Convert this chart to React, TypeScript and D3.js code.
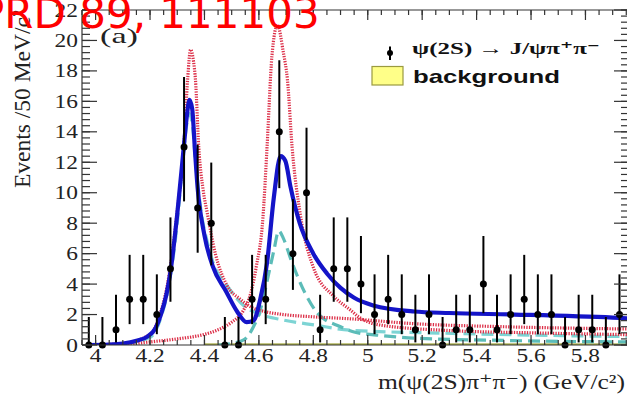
import React from "react";
import * as d3 from "d3";

const W = 627;
const H = 398;

// ---------- data ----------
const binCenters = [
  3.975, 4.025, 4.075, 4.125, 4.175, 4.225, 4.275, 4.325, 4.375, 4.425,
  4.475, 4.525, 4.575, 4.625, 4.675, 4.725, 4.775, 4.825, 4.875, 4.925,
  4.975, 5.025, 5.075, 5.125, 5.175, 5.225, 5.275, 5.325, 5.375, 5.425,
  5.475, 5.525, 5.575, 5.625, 5.675, 5.725, 5.775, 5.825, 5.875, 5.925,
];
const counts = [
  0, 0, 1, 3, 3, 2, 5, 13, 9, 8,
  0, 0, 3, 3, 14, 6, 10, 1, 5, 5,
  4, 2, 3, 2, 1, 2, 0, 1, 1, 4,
  1, 2, 3, 2, 2, 0, 1, 1, 0, 2,
];
const errLow = [
  0, 0, 0.17, 1.37, 1.37, 0.71, 2.84, 9.43, 6.06, 5.23,
  0, 0, 1.37, 1.37, 10.3, 3.62, 6.89, 0.17, 2.84, 2.84,
  2.09, 0.71, 1.37, 0.71, 0.17, 0.71, 0, 0.17, 0.17, 2.09,
  0.17, 0.71, 1.37, 0.71, 0.71, 0, 0.17, 0.17, 0, 0.71,
];
const errHigh = [
  1.84, 1.84, 3.3, 5.92, 5.92, 4.64, 8.38, 17.6, 13.15, 11.98,
  1.84, 1.84, 5.92, 5.92, 18.7, 9.58, 14.27, 3.3, 8.38, 8.38,
  7.16, 4.64, 5.92, 4.64, 3.3, 4.64, 1.84, 3.3, 3.3, 7.16,
  3.3, 4.64, 5.92, 4.64, 4.64, 1.84, 3.3, 3.3, 1.84, 4.64,
];

// total fit (blue solid)
const fitX = [3.975, 4.05, 4.1, 4.15, 4.19, 4.22, 4.24, 4.26, 4.275, 4.3, 4.324, 4.335, 4.345, 4.355, 4.365, 4.375, 4.4, 4.43, 4.48, 4.52, 4.555, 4.58, 4.605, 4.63, 4.655, 4.68, 4.697, 4.716, 4.75, 4.8, 4.85, 4.9, 4.95, 5.02, 5.17, 5.3, 5.54, 5.9, 5.96];
const fitY = [0, 0.03, 0.1, 0.28, 0.55, 1.1, 2.0, 3.3, 4.8, 8.6, 13.0, 15.0, 16.1, 15.5, 12.8, 10.3, 7.2, 5.2, 3.5, 2.2, 1.5, 1.6, 3.0, 5.4, 9.7, 12.4, 12.1, 10.4, 8.0, 6.0, 4.7, 3.75, 3.1, 2.6, 2.2, 2.1, 2.0, 1.8, 1.75];

// component 1 (red dotted, first resonance)
const red1X = [3.975, 4.1, 4.2, 4.24, 4.27, 4.3, 4.324, 4.338, 4.349, 4.36, 4.367, 4.379, 4.395, 4.41, 4.44, 4.483, 4.532, 4.57, 4.62, 4.69, 4.8, 4.936, 5.17, 5.5, 5.96];
const red1Y = [0, 0.1, 0.7, 2.2, 4.6, 8.8, 13.0, 17.4, 19.4, 18.6, 17.4, 13.0, 10.2, 8.7, 6.0, 3.9, 3.0, 2.5, 2.2, 2.0, 1.85, 1.72, 1.4, 1.2, 1.05];

// component 2 (red dotted, second resonance)
const red2X = [4.1, 4.2, 4.3, 4.4, 4.45, 4.5, 4.544, 4.57, 4.59, 4.615, 4.63, 4.648, 4.668, 4.69, 4.705, 4.722, 4.752, 4.8, 4.875, 4.936, 4.97, 5.05, 5.3, 5.6, 5.96];
const red2Y = [0, 0.2, 0.4, 0.7, 1.0, 1.5, 2.3, 3.4, 5.1, 8.4, 13.0, 19.0, 21.0, 19.2, 17.4, 13.0, 8.6, 5.1, 3.2, 2.3, 1.8, 1.3, 0.95, 0.8, 0.68];

// component 3 (cyan dashed, first resonance)
const cyan1X = [3.975, 4.1, 4.2, 4.24, 4.27, 4.3, 4.32, 4.335, 4.345, 4.355, 4.37, 4.39, 4.41, 4.434, 4.483, 4.55, 4.6, 4.69, 4.81, 4.936, 5.29, 5.96];
const cyan1Y = [0, 0.05, 0.5, 1.8, 4.0, 8.0, 12.0, 14.5, 15.2, 14.5, 11.5, 8.5, 6.8, 5.3, 3.9, 2.5, 2.05, 1.64, 1.3, 0.97, 0.77, 0.55];

// component 4 (cyan dashed, second resonance)
const cyan2X = [4.45, 4.5, 4.544, 4.58, 4.605, 4.64, 4.655, 4.673, 4.69, 4.72, 4.77, 4.815, 4.9, 4.95, 5.05, 5.17, 5.5, 5.96];
const cyan2Y = [0, 0.1, 0.33, 1.2, 2.3, 5.0, 6.2, 7.5, 7.0, 5.5, 3.4, 2.1, 1.2, 0.85, 0.62, 0.45, 0.3, 0.2];

// background
const bkgX = [4.4, 5.96];
const bkgY = [0.07, 0.07];

const xTickVals = [4, 4.2, 4.4, 4.6, 4.8, 5, 5.2, 5.4, 5.6, 5.8];
const yTickVals = [0, 2, 4, 6, 8, 10, 12, 14, 16, 18, 20, 22];

// ---------- layout ----------
const left = 82;
const right = 629;
const top = 10;
const bottom = 345;

const serif = "'Liberation Serif', 'Times New Roman', 'DejaVu Serif', serif";
const sans = "'Liberation Sans', Arial, 'DejaVu Sans', sans-serif";

export default function App() {
  const x = d3.scaleLinear().domain([3.95, 5.96]).range([left, right]);
  const y = d3.scaleLinear().domain([0, 22]).range([bottom, top]);

  const mk = (xs: number[], ys: number[]) =>
    d3
      .line<number>()
      .x((_, i) => x(xs[i]))
      .y((_, i) => y(ys[i]))
      .curve(d3.curveMonotoneX)(ys) || "";

  const xMinor = d3.range(0, 41).map((i) => 3.95 + i * 0.05).filter((v) => v <= 5.96);
  const yMinor = d3.range(0, 56).map((i) => i * 0.4).filter((v) => v <= 22.001);

  const bkgArea =
    d3
      .area<number>()
      .x((_, i) => x(bkgX[i]))
      .y0(y(0))
      .y1((_, i) => y(bkgY[i]))(bkgY) || "";

  return (
    <svg width={W} height={H} style={{ position: "absolute", left: 0, top: 0, background: "#fff" }}>
      <defs>
        <clipPath id="plot">
          <rect x={left} y={top} width={right - left} height={bottom - top} />
        </clipPath>
      </defs>
      <rect x={0} y={0} width={W} height={H} fill="#fff" />

      <g clipPath="url(#plot)">
        <path d={bkgArea} fill="#ffff88" stroke="#9aa030" strokeWidth={1} />
        <path d={mk(cyan1X, cyan1Y)} fill="none" stroke="#7dd4d4" strokeWidth={3.2} strokeDasharray="12 6" />
        <path d={mk(cyan2X, cyan2Y)} fill="none" stroke="#5cbcb8" strokeWidth={3.2} strokeDasharray="12 6" />
        <path d={mk(red1X, red1Y)} fill="none" stroke="#dc2f48" strokeWidth={3.2} strokeDasharray="1.3 1.3" />
        <path d={mk(red2X, red2Y)} fill="none" stroke="#dc2f48" strokeWidth={3.2} strokeDasharray="1.3 1.3" />
        <path d={mk(fitX, fitY)} fill="none" stroke="#1414c8" strokeWidth={4.2} strokeLinejoin="round" />
      </g>

      {/* data points */}
      <g>
        {binCenters.map((c, i) => (
          <g key={i}>
            <line x1={x(c)} x2={x(c)} y1={y(errLow[i])} y2={y(errHigh[i])} stroke="#000" strokeWidth={2} />
            <circle cx={x(c)} cy={y(counts[i])} r={3.5} fill="#000" />
          </g>
        ))}
      </g>

      {/* frame */}
      <g stroke="#333" strokeWidth={1.2} fill="none">
        <line x1={left} x2={left} y1={top} y2={bottom} />
        <line x1={left} x2={right} y1={bottom} y2={bottom} />
        <line x1={left} x2={right} y1={top} y2={top} />
        <line x1={right} x2={right} y1={top} y2={bottom} />
        {xMinor.map((v, i) => (
          <g key={"xm" + i}>
            <line x1={x(v)} x2={x(v)} y1={bottom} y2={bottom - 5} />
            <line x1={x(v)} x2={x(v)} y1={top} y2={top + 5} />
          </g>
        ))}
        {xTickVals.map((v, i) => (
          <g key={"xM" + i}>
            <line x1={x(v)} x2={x(v)} y1={bottom} y2={bottom - 10} />
            <line x1={x(v)} x2={x(v)} y1={top} y2={top + 10} />
          </g>
        ))}
        {yMinor.map((v, i) => (
          <g key={"ym" + i}>
            <line x1={left} x2={left + 8} y1={y(v)} y2={y(v)} />
            <line x1={right} x2={right - 8} y1={y(v)} y2={y(v)} />
          </g>
        ))}
        {yTickVals.map((v, i) => (
          <g key={"yM" + i}>
            <line x1={left} x2={left + 15} y1={y(v)} y2={y(v)} />
            <line x1={right} x2={right - 15} y1={y(v)} y2={y(v)} />
          </g>
        ))}
      </g>

      {/* tick labels */}
      <g fontFamily={serif} fontSize={19.5} fill="#222">
        {xTickVals.map((v, i) => (
          <text
            key={"xl" + i}
            transform={`translate(${x(v)},${362}) scale(1.2,1)`}
            textAnchor="middle"
          >
            {d3.format("~g")(v)}
          </text>
        ))}
        {yTickVals.map((v, i) => (
          <text
            key={"yl" + i}
            transform={`translate(${78},${y(v) + 6.5}) scale(1.2,1)`}
            textAnchor="end"
          >
            {v}
          </text>
        ))}
      </g>

      {/* axis titles */}
      <text
        fontFamily={serif}
        fontSize={21}
        fill="#222"
        x={378}
        y={389}
        textLength={247}
        lengthAdjust="spacingAndGlyphs"
      >
        m(ψ(2S)π⁺π⁻) (GeV/c²)
      </text>
      <text
        fontFamily={serif}
        fontSize={20}
        fill="#222"
        transform="translate(30,188) rotate(-90) scale(1,1.2)"
        textLength={178}
        lengthAdjust="spacingAndGlyphs"
      >
        Events /50 MeV/c²
      </text>

      {/* panel label */}
      <text fontFamily={serif} fontSize={22} fill="#222" x={100} y={43} textLength={38} lengthAdjust="spacingAndGlyphs">
        (a)
      </text>

      {/* legend */}
      <line x1={390} x2={390} y1={46.5} y2={60} stroke="#000" strokeWidth={2} />
      <circle cx={390} cy={53} r={3} fill="#000" />
      <text
        fontFamily={serif}
        fontWeight="bold"
        fontSize={17}
        fill="#111"
        x={412}
        y={54}
        textLength={188}
        lengthAdjust="spacingAndGlyphs"
      >
        ψ(2S) → J/ψπ⁺π⁻
      </text>
      <rect x={372} y={66.5} width={31} height={18.5} fill="#ffff88" stroke="#9a9a40" strokeWidth={1.2} />
      <text
        fontFamily={sans}
        fontWeight="bold"
        fontSize={18.5}
        fill="#111"
        x={413}
        y={83}
        textLength={147}
        lengthAdjust="spacingAndGlyphs"
      >
        background
      </text>

      {/* watermark */}
      <text fontFamily="'DejaVu Sans', sans-serif" fontSize={42} fill="#ff0000" x={-21} y={28}>
        PRD 89, 111103
      </text>
    </svg>
  );
}
